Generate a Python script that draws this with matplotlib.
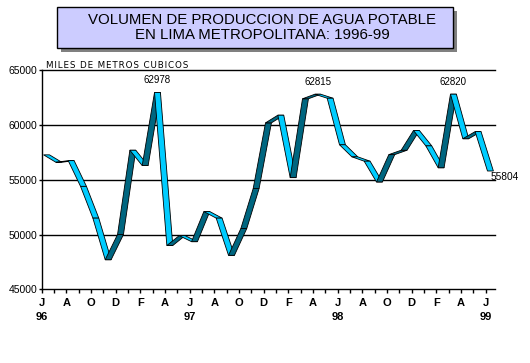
import matplotlib
matplotlib.use('Agg')
import matplotlib.pyplot as plt
from matplotlib.patches import Polygon, Rectangle

plt.rcParams['font.family'] = ['Liberation Sans', 'DejaVu Sans']

# monthly production, Jun 1996 .. Jun 1999 (thousand m3)
values = [57280, 56600, 56750, 54400, 51500, 47700, 50000, 57700, 56300, 62978,
          49000, 49900, 49350, 52100, 51500, 48100, 50550, 54200, 60200, 60900,
          55200, 62400, 62815, 62450, 58200, 57100, 56700, 54800, 57300, 57700,
          59500, 58100, 56100, 62820, 58750, 59400, 55804]
# labels on every second month
month_labels = ['J\n96', 'A', 'O', 'D', 'F', 'A', 'J\n97', 'A', 'O', 'D', 'F', 'A',
                'J\n98', 'A', 'O', 'D', 'F', 'A', 'J\n99']
labelled = {9: '62978', 22: '62815', 33: '62820'}
y_ticks = [45000, 50000, 55000, 60000, 65000]

LIGHT = '#00CCFF'
DARK = '#006680'

W, H = 530, 363
fig = plt.figure(figsize=(W / 100, H / 100), dpi=100)
fig.patch.set_facecolor('white')

# title box with shadow
fig.patches.append(Rectangle((61 / W, 1 - 52 / H), 396 / W, 41 / H,
                             transform=fig.transFigure, facecolor='#808080',
                             edgecolor='none', zorder=0))
fig.patches.append(Rectangle((57 / W, 1 - 48 / H), 396 / W, 41 / H,
                             transform=fig.transFigure, facecolor='#CCCCFF',
                             edgecolor='black', linewidth=1, zorder=1))
fig.text(262 / W, 1 - 27.5 / H,
         'VOLUMEN DE PRODUCCION DE AGUA POTABLE\nEN LIMA METROPOLITANA: 1996-99',
         ha='center', va='center', fontsize=10.8, linespacing=1.1, zorder=2)

ax = fig.add_axes([41.7 / W, 1 - 289.3 / H, (495 - 41.7) / W, (289.3 - 70.3) / H])
n = len(values)
ax.set_xlim(0, 36.76)
ax.set_ylim(45000, 65000)

for gy in y_ticks[1:]:
    ax.axhline(gy, color='black', linewidth=1.0, zorder=1, clip_on=False)

# 3D-looking ribbon: each segment is a parallelogram with horizontal depth
xs = [i + 0.15 for i in range(n)]
dx = 0.48
for i in range(n - 1):
    x0, x1 = xs[i], xs[i + 1]
    y0, y1 = values[i], values[i + 1]
    col = LIGHT if y1 <= y0 else DARK
    poly = Polygon([(x0, y0), (x1, y1), (x1 + dx, y1), (x0 + dx, y0)],
                   closed=True, facecolor=col, edgecolor='black',
                   linewidth=0.6, zorder=3)
    ax.add_patch(poly)

for i, txt in labelled.items():
    ax.annotate(txt, (xs[i] + dx / 2, values[i]), xytext=(0, 5),
                textcoords='offset points', ha='center', va='bottom',
                fontsize=7, zorder=4)
ax.annotate(f'{values[-1]}', (xs[-1] + dx * 0.6, values[-1]), xytext=(0, -1),
            textcoords='offset points', ha='left', va='top', fontsize=7.3,
            annotation_clip=False, zorder=4)

ylab = '\u200a'.join('MILES DE METROS CUBICOS')
fig.text(46 / W, 1 - 66 / H, ylab, ha='left', va='center',
         fontsize=6.3, family='DejaVu Sans')

for side in ['top', 'right']:
    ax.spines[side].set_visible(False)
for side in ['left', 'bottom']:
    ax.spines[side].set_linewidth(1.0)
    ax.spines[side].set_color('black')

ax.set_yticks(y_ticks)
ax.set_yticklabels([str(v) for v in y_ticks], fontsize=7.5)
ax.tick_params(axis='y', length=2, width=1, pad=1)

ax.set_xticks(range(n))
xlabels = [''] * n
for k in range(0, n, 2):
    xlabels[k] = month_labels[k // 2]
ax.set_xticklabels(xlabels, fontsize=8, fontweight='bold', linespacing=1.5, va='top')
ax.tick_params(axis='x', length=3, width=1, pad=3)

fig.savefig('out.png', dpi=100)
